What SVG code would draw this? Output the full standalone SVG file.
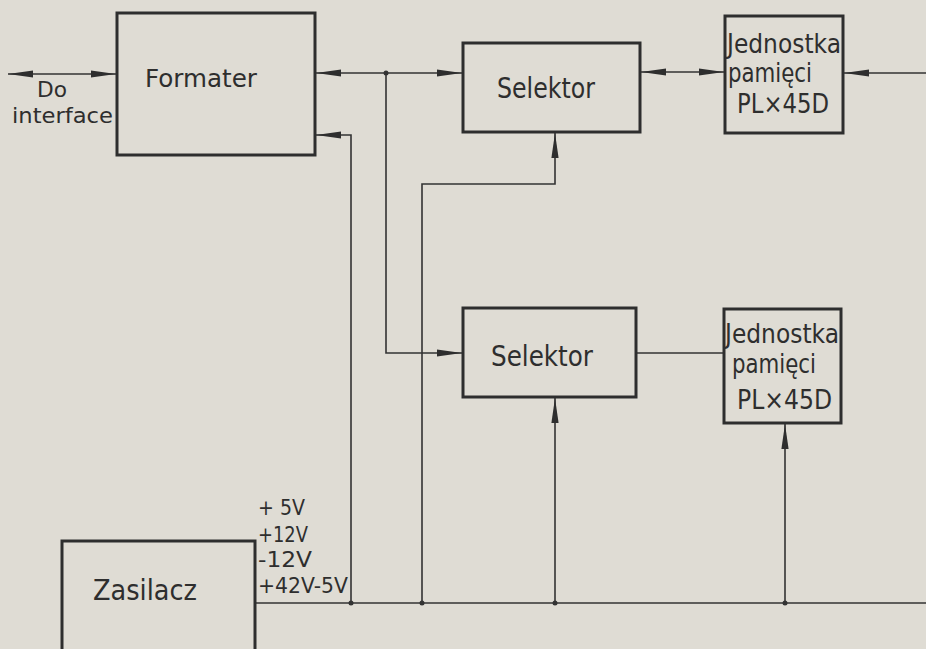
<svg xmlns="http://www.w3.org/2000/svg" width="926" height="649" viewBox="0 0 926 649">
  <style>
    .box { fill: none; stroke: #2e2e2e; stroke-width: 3; }
    .wire { fill: none; stroke: #333; stroke-width: 1.6; }
    .lbl { font-family: "DejaVu Sans", sans-serif; fill: #2e2e2e; }
    .big { font-size: 28px; }
    .mid { font-size: 26px; }
    .fm { font-size: 24px; }
    .sm { font-size: 22px; }
    .dot { fill: #333; }
  </style>
  <defs>
    <marker id="ah" markerUnits="userSpaceOnUse" markerWidth="28" markerHeight="10" viewBox="-26 -5 28 10" refX="0" refY="0" orient="auto-start-reverse">
      <path d="M0,0 L-25,-3.6 L-25,3.6 Z" fill="#2e2e2e"/>
    </marker>
  </defs>
  <rect x="0" y="0" width="926" height="649" fill="#dfdcd4"/>

  <g id="connectors">
    <line class="wire" x1="8" y1="74" x2="116" y2="74" marker-start="url(#ah)" marker-end="url(#ah)"/>
    <line class="wire" x1="316" y1="73" x2="462" y2="73" marker-start="url(#ah)" marker-end="url(#ah)"/>
    <circle class="dot" cx="386" cy="73" r="2.5"/>
    <polyline class="wire" points="386,73 386,353 462,353" marker-end="url(#ah)"/>
    <line class="wire" x1="641" y1="72" x2="724" y2="72" marker-start="url(#ah)" marker-end="url(#ah)"/>
    <line class="wire" x1="926" y1="73" x2="844" y2="73" marker-end="url(#ah)"/>
    <polyline class="wire" points="351,603 351,135 316,135" marker-end="url(#ah)"/>
    <polyline class="wire" points="422,603 422,184 555,184 555,133" marker-end="url(#ah)"/>
    <line class="wire" x1="555" y1="603" x2="555" y2="398" marker-end="url(#ah)"/>
    <line class="wire" x1="637" y1="353" x2="724" y2="353"/>
    <line class="wire" x1="785" y1="603" x2="785" y2="424" marker-end="url(#ah)"/>
    <line class="wire" x1="256" y1="603" x2="926" y2="603"/>
    <circle class="dot" cx="351" cy="603" r="2.5"/>
    <circle class="dot" cx="422" cy="603" r="2.5"/>
    <circle class="dot" cx="555" cy="603" r="2.5"/>
    <circle class="dot" cx="785" cy="603" r="2.5"/>
  </g>

  <g id="do-interface">
    <text class="lbl sm" x="37" y="97" textLength="30" lengthAdjust="spacingAndGlyphs">Do</text>
    <text class="lbl sm" x="12" y="123" textLength="101" lengthAdjust="spacingAndGlyphs">interface</text>
  </g>

  <g id="formater">
    <rect class="box" x="117" y="13" width="198" height="142"/>
    <text class="lbl fm" x="145" y="87" textLength="112" lengthAdjust="spacingAndGlyphs">Formater</text>
  </g>

  <g id="selektor1">
    <rect class="box" x="463" y="43" width="177" height="89"/>
    <text class="lbl big" x="497" y="98" textLength="98" lengthAdjust="spacingAndGlyphs">Selektor</text>
  </g>

  <g id="jednostka1">
    <rect class="box" x="725" y="16" width="118" height="117"/>
    <text class="lbl mid" x="727" y="53" textLength="114" lengthAdjust="spacingAndGlyphs">Jednostka</text>
    <text class="lbl mid" x="728" y="82" textLength="84" lengthAdjust="spacingAndGlyphs">pamięci</text>
    <text class="lbl mid" x="737" y="113" textLength="92" lengthAdjust="spacingAndGlyphs">PL×45D</text>
  </g>

  <g id="selektor2">
    <rect class="box" x="463" y="308" width="173" height="89"/>
    <text class="lbl big" x="491" y="366" textLength="102" lengthAdjust="spacingAndGlyphs">Selektor</text>
  </g>

  <g id="jednostka2">
    <rect class="box" x="724" y="309" width="117" height="114"/>
    <text class="lbl mid" x="725" y="343" textLength="114" lengthAdjust="spacingAndGlyphs">Jednostka</text>
    <text class="lbl mid" x="732" y="373" textLength="84" lengthAdjust="spacingAndGlyphs">pamięci</text>
    <text class="lbl mid" x="737" y="409" textLength="95" lengthAdjust="spacingAndGlyphs">PL×45D</text>
  </g>

  <g id="zasilacz">
    <rect class="box" x="62" y="541" width="193" height="120"/>
    <text class="lbl big" x="93" y="600" textLength="104" lengthAdjust="spacingAndGlyphs">Zasilacz</text>
  </g>

  <g id="voltages">
    <text class="lbl sm" x="258" y="515" textLength="47" lengthAdjust="spacingAndGlyphs">+ 5V</text>
    <text class="lbl sm" x="258" y="542" textLength="50" lengthAdjust="spacingAndGlyphs">+12V</text>
    <text class="lbl sm" x="258" y="567" textLength="54" lengthAdjust="spacingAndGlyphs">-12V</text>
    <text class="lbl sm" x="258" y="593" textLength="90" lengthAdjust="spacingAndGlyphs">+42V-5V</text>
  </g>
</svg>
